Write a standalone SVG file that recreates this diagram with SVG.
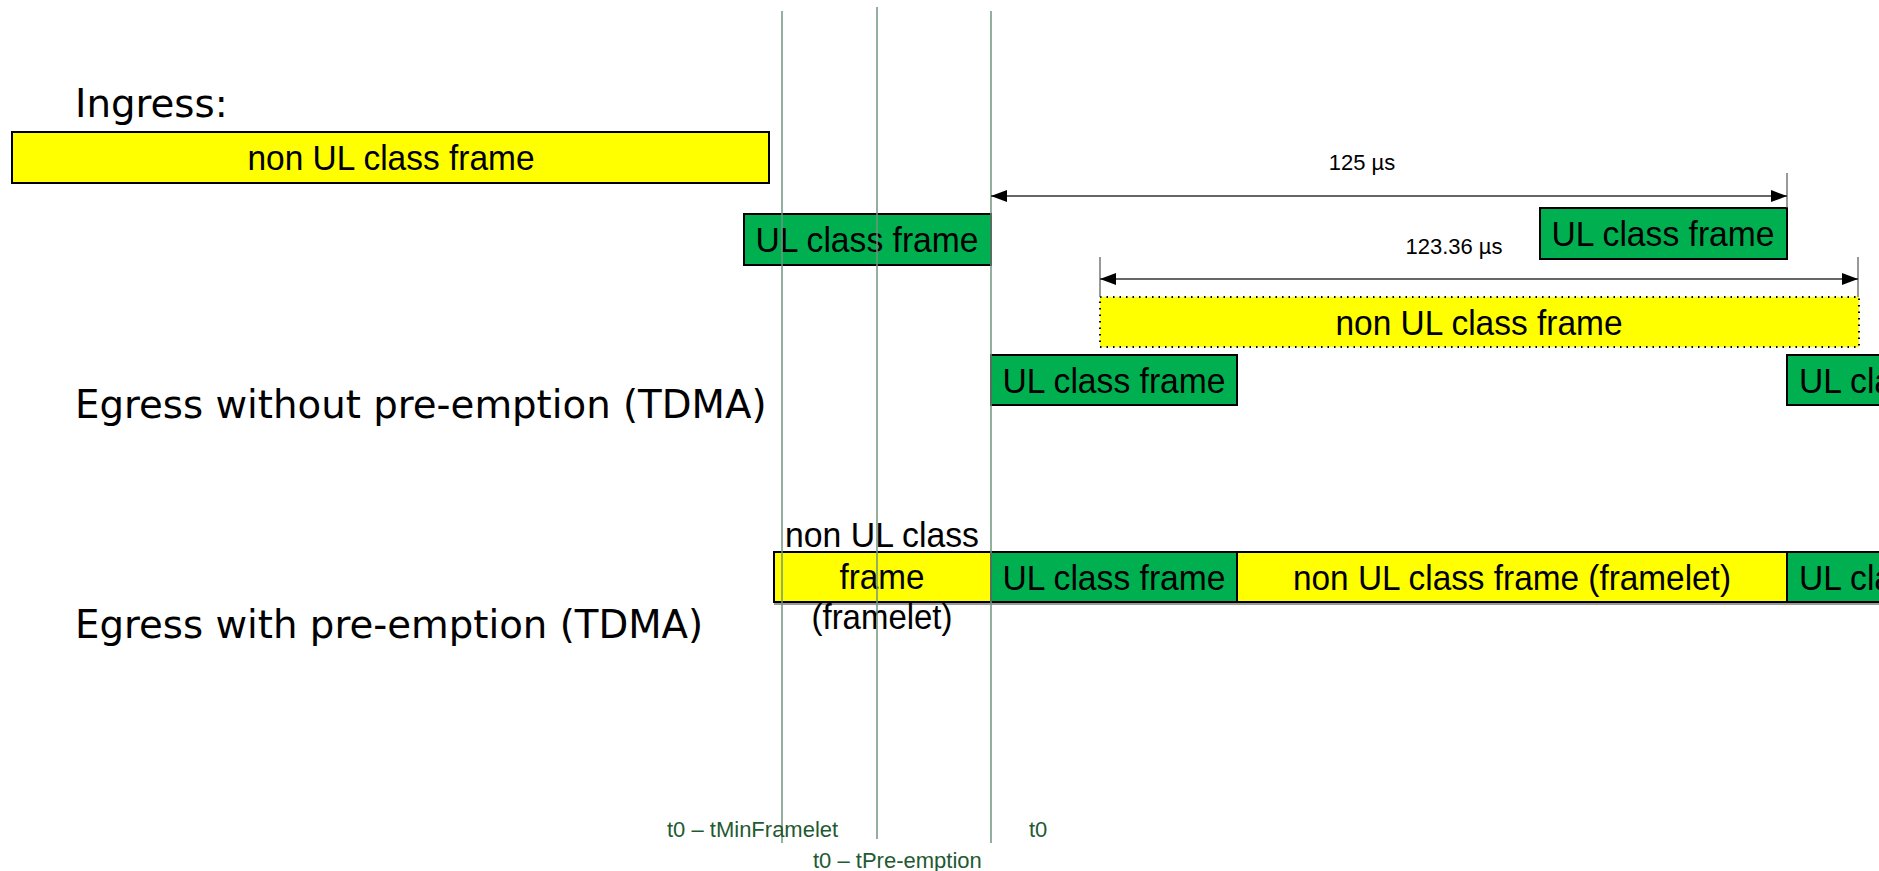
<svg xmlns="http://www.w3.org/2000/svg" width="1879" height="871" viewBox="0 0 1879 871">
<defs>
<style>
.lbl{font-family:"DejaVu Sans",Verdana,sans-serif;font-size:38.7px;fill:#000}
.bx{font-family:"Liberation Sans",Arial,sans-serif;font-size:35px;fill:#000;text-anchor:middle}
.bxs{font-family:"Liberation Sans",Arial,sans-serif;font-size:35px;fill:#000}
.dim{font-family:"Liberation Sans",Arial,sans-serif;font-size:22px;fill:#000;text-anchor:middle}
.tl{font-family:"Liberation Sans",Arial,sans-serif;font-size:22px;fill:#1f5a32}
.y{fill:#ffff00;stroke:#000;stroke-width:2}
.g{fill:#00b050;stroke:#000;stroke-width:2}
.yd{fill:#ffff00;stroke:#000;stroke-width:2;stroke-dasharray:1.5 5}
.vl{stroke:#6f9480;stroke-width:1.5;fill:none}
.ar{stroke:#333;stroke-width:1.5;fill:none}
.tk{stroke:#555;stroke-width:1.2;fill:none}
</style>
<marker id="ah" viewBox="0 0 16 12" refX="16" refY="6" markerWidth="16" markerHeight="12" markerUnits="userSpaceOnUse" orient="auto-start-reverse">
<path d="M0,0 L16,6 L0,12 Z" fill="#000"/>
</marker>
</defs>
<rect width="1879" height="871" fill="#fff"/>

<g id="labels">
<text class="lbl" x="75" y="117">Ingress:</text>
<text class="lbl" x="75" y="418">Egress without pre-emption (TDMA)</text>
<text class="lbl" x="75" y="638">Egress with pre-emption (TDMA)</text>
</g>

<g id="ingress-nonul">
<rect class="y" x="12" y="132" width="757" height="51"/>
<text class="bx" x="391" y="170" textLength="287" lengthAdjust="spacingAndGlyphs">non UL class frame</text>
</g>

<g id="ul-left">
<rect class="g" x="744" y="214" width="247" height="51"/>
<text class="bx" x="867" y="252" textLength="223" lengthAdjust="spacingAndGlyphs">UL class frame</text>
</g>

<g id="ul-right-top">
<rect class="g" x="1540" y="208" width="247" height="51"/>
<text class="bx" x="1663" y="246" textLength="223" lengthAdjust="spacingAndGlyphs">UL class frame</text>
</g>

<g id="nonul-dotted">
<rect class="yd" x="1100" y="297" width="759" height="50"/>
<text class="bx" x="1479" y="335" textLength="287" lengthAdjust="spacingAndGlyphs">non UL class frame</text>
</g>

<g id="egress1-ul">
<rect class="g" x="991" y="355" width="246" height="50"/>
<text class="bx" x="1114" y="393" textLength="223" lengthAdjust="spacingAndGlyphs">UL class frame</text>
</g>

<g id="egress1-ul-next">
<rect class="g" x="1787" y="355" width="120" height="50"/>
<text class="bxs" x="1799" y="393" textLength="223" lengthAdjust="spacingAndGlyphs">UL class frame</text>
</g>

<line x1="774" y1="604" x2="1879" y2="604" stroke="#999" stroke-width="2"/>

<g id="egress2-framelet">
<rect class="y" x="774" y="552" width="217" height="50"/>
<text class="bx" x="882" y="547" textLength="194" lengthAdjust="spacingAndGlyphs">non UL class</text>
<text class="bx" x="882" y="589" textLength="85" lengthAdjust="spacingAndGlyphs">frame</text>
<text class="bx" x="882" y="629" textLength="141" lengthAdjust="spacingAndGlyphs">(framelet)</text>
</g>

<g id="egress2-ul">
<rect class="g" x="991" y="552" width="246" height="50"/>
<text class="bx" x="1114" y="590" textLength="223" lengthAdjust="spacingAndGlyphs">UL class frame</text>
</g>

<g id="egress2-nonul">
<rect class="y" x="1237" y="552" width="550" height="50"/>
<text class="bx" x="1512" y="590" textLength="438" lengthAdjust="spacingAndGlyphs">non UL class frame (framelet)</text>
</g>

<g id="egress2-ul-next">
<rect class="g" x="1787" y="552" width="120" height="50"/>
<text class="bxs" x="1799" y="590" textLength="223" lengthAdjust="spacingAndGlyphs">UL class frame</text>
</g>

<g id="connectors">
<line class="vl" x1="782" y1="11" x2="782" y2="843"/>
<line class="vl" x1="877" y1="7" x2="877" y2="839"/>
<line class="vl" x1="991" y1="11" x2="991" y2="843"/>
<line class="tk" x1="1787" y1="173" x2="1787" y2="208"/>
<line class="ar" x1="991" y1="196" x2="1787" y2="196" marker-start="url(#ah)" marker-end="url(#ah)"/>
<line class="tk" x1="1100" y1="257" x2="1100" y2="297"/>
<line class="tk" x1="1858" y1="257" x2="1858" y2="297"/>
<line class="ar" x1="1100" y1="279" x2="1858" y2="279" marker-start="url(#ah)" marker-end="url(#ah)"/>
</g>

<g id="dim-labels">
<text class="dim" x="1362" y="170">125 µs</text>
<text class="dim" x="1454" y="254">123.36 µs</text>
</g>

<g id="time-labels">
<text class="tl" x="667" y="837">t0 – tMinFramelet</text>
<text class="tl" x="1029" y="837">t0</text>
<text class="tl" x="813" y="868">t0 – tPre-emption</text>
</g>
</svg>
